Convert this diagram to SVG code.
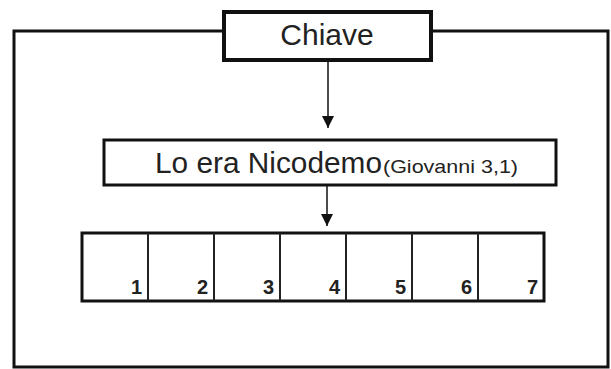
<svg xmlns="http://www.w3.org/2000/svg" width="611" height="369" viewBox="0 0 611 369">
<style>
.box{fill:#fff;stroke:#111;}
.t{font-family:"Liberation Sans",Arial,sans-serif;fill:#222;}
.n{font-family:"Liberation Sans",Arial,sans-serif;font-weight:bold;font-size:20px;fill:#222;text-anchor:end;}
.conn{stroke:#111;stroke-width:1.5;fill:none;marker-end:url(#ah);}
</style>
<defs>
<marker id="ah" viewBox="0 0 12 12" refX="12" refY="6" markerWidth="12" markerHeight="12" markerUnits="userSpaceOnUse" orient="auto">
<path d="M0,0 L12,6 L0,12 Z" fill="#111"/>
</marker>
</defs>
<rect width="611" height="369" fill="#fff"/>
<g id="frame"><rect x="14" y="31" width="594" height="336" fill="none" stroke="#111" stroke-width="3"/></g>
<g id="connectors">
<line class="conn" x1="328" y1="62" x2="328" y2="128"/>
<line class="conn" x1="327" y1="186" x2="327" y2="226"/>
</g>
<g id="chiave">
<rect class="box" x="224" y="12" width="207" height="48" stroke-width="4"/>
<text class="t" x="327" y="45" font-size="30" text-anchor="middle" fill="#333">Chiave</text>
</g>
<g id="nicodemo">
<rect class="box" x="104" y="140" width="452" height="45" stroke-width="3"/>
<text class="t" x="155" y="173" font-size="30" textLength="227" lengthAdjust="spacingAndGlyphs">Lo era Nicodemo</text>
<text class="t" x="383" y="173" font-size="19" fill="#555" textLength="135" lengthAdjust="spacingAndGlyphs">(Giovanni 3,1)</text>
</g>
<g id="cells">
<rect class="box" x="82" y="233" width="462" height="68" stroke-width="3"/>
<g stroke="#222" stroke-width="2">
<line x1="148" y1="233" x2="148" y2="301"/>
<line x1="214" y1="233" x2="214" y2="301"/>
<line x1="280" y1="233" x2="280" y2="301"/>
<line x1="346" y1="233" x2="346" y2="301"/>
<line x1="412" y1="233" x2="412" y2="301"/>
<line x1="478" y1="233" x2="478" y2="301"/>
</g>
<text class="n" x="142" y="294">1</text>
<text class="n" x="208" y="294">2</text>
<text class="n" x="274" y="294">3</text>
<text class="n" x="340" y="294">4</text>
<text class="n" x="406" y="294">5</text>
<text class="n" x="472" y="294">6</text>
<text class="n" x="538" y="294">7</text>
</g>
</svg>
